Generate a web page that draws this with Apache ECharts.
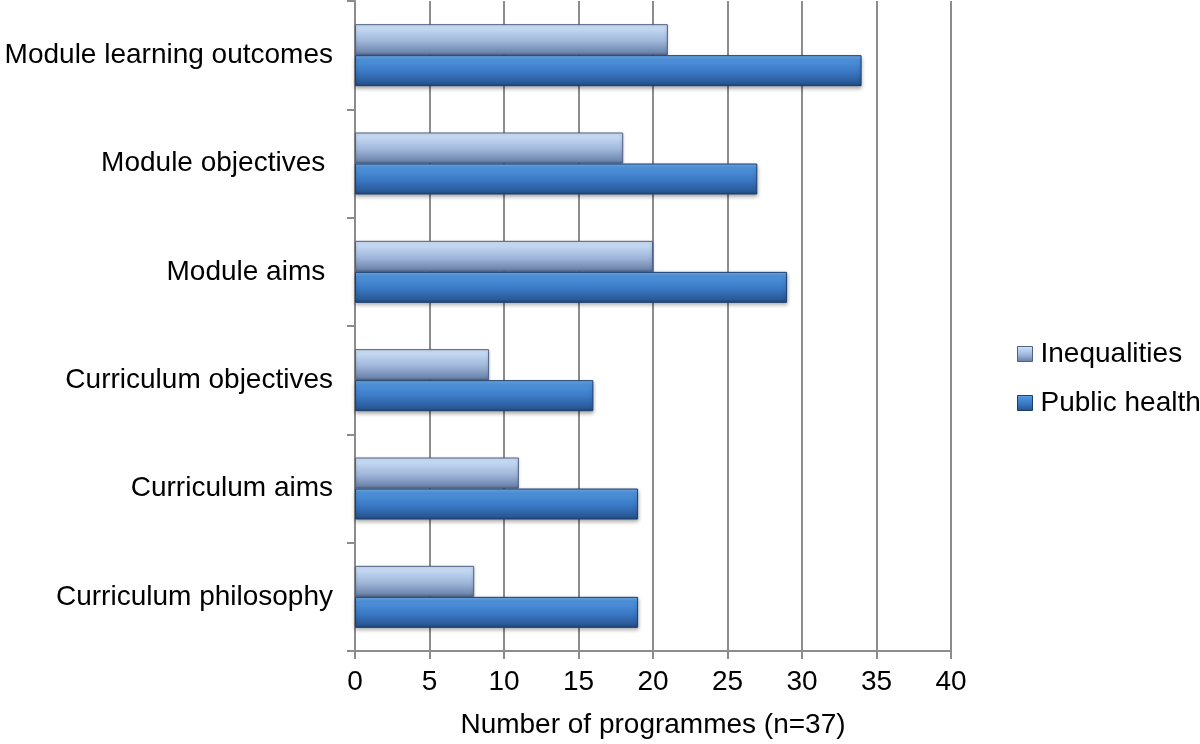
<!DOCTYPE html>
<html><head><meta charset="utf-8">
<script src="https://cdn.jsdelivr.net/npm/echarts@6/dist/echarts.min.js"></script>
<style>html,body{margin:0;padding:0;background:#fff}#c{width:1200px;height:744px}</style>
</head><body><div id="c"></div>
<script>
const categories = ['Curriculum philosophy','Curriculum aims','Curriculum objectives','Module aims ','Module objectives ','Module learning outcomes'];
const inequalities = [8, 11, 9, 20, 18, 21];
const publicHealth = [19, 19, 16, 29, 27, 34];
const xTicks = {min: 0, max: 40, interval: 5};
const FONT = 'Liberation Sans';
const grad = (stops) => new echarts.graphic.LinearGradient(0,0,0,1, stops.map((c)=>({offset:c[0], color:c[1]})));
const ineqColor = grad([[0,'#dbe9fa'],[0.15,'#c3d8f2'],[0.55,'#9fb6da'],[0.9,'#7088ae'],[1,'#5c7196']]);
const phColor = grad([[0,'#6fb0ef'],[0.15,'#4f93dc'],[0.55,'#3a78c4'],[0.9,'#2a5996'],[1,'#1f4678']]);
const chart = echarts.init(document.getElementById('c'), null, {renderer:'canvas'});
chart.setOption({
  animation: false,
  textStyle: {fontFamily: FONT},
  grid: {left: 355, width: 596, top: 1, height: 651, containLabel: false},
  legend: {
    orient: 'vertical', left: 1012, top: 335, itemGap: 21, itemWidth: 15, itemHeight: 15,
    icon: 'rect',
    textStyle: {fontFamily: FONT, fontSize: 28, color: '#000', padding: [0,0,0,3]},
    data: [{name:'Inequalities', itemStyle:{color:ineqColor, borderColor:'#4f6288', borderWidth:1}},
           {name:'Public health', itemStyle:{color:phColor, borderColor:'#1c3e6c', borderWidth:1}}]
  },
  xAxis: {
    type: 'value', min: xTicks.min, max: xTicks.max, interval: xTicks.interval,
    name: 'Number of programmes (n=37)', nameLocation: 'middle', nameGap: 60,
    nameTextStyle: {fontFamily: FONT, fontSize: 28, color: '#000'},
    axisLine: {show: true, lineStyle: {color: '#8c8c8c', width: 2}},
    axisTick: {show: true, length: 8, lineStyle: {color: '#8c8c8c', width: 2}},
    axisLabel: {fontFamily: FONT, fontSize: 28, color: '#000', margin: 17},
    splitLine: {show: true, lineStyle: {color: '#8c8c8c', width: 2}}
  },
  yAxis: {
    type: 'category', data: categories,
    axisLine: {show: true, lineStyle: {color: '#8c8c8c', width: 2}},
    axisTick: {show: true, length: 8, lineStyle: {color: '#8c8c8c', width: 2}},
    axisLabel: {fontFamily: FONT, fontSize: 28, color: '#000', margin: 22},
    splitLine: {show: false}
  },
  series: [
    {name: 'Inequalities', type: 'bar', data: inequalities, barWidth: 31, barGap: '0%', barCategoryGap: '42%',
     itemStyle: {color: ineqColor, borderColor: '#4f6288', borderWidth: 1, shadowColor: 'rgba(0,0,0,0.25)', shadowBlur: 3, shadowOffsetY: 1}},
    {name: 'Public health', type: 'bar', data: publicHealth, barWidth: 31, barGap: '0%',
     itemStyle: {color: phColor, borderColor: '#1c3e6c', borderWidth: 1, shadowColor: 'rgba(0,0,0,0.35)', shadowBlur: 4, shadowOffsetY: 2}}
  ]
});
</script></body></html>
